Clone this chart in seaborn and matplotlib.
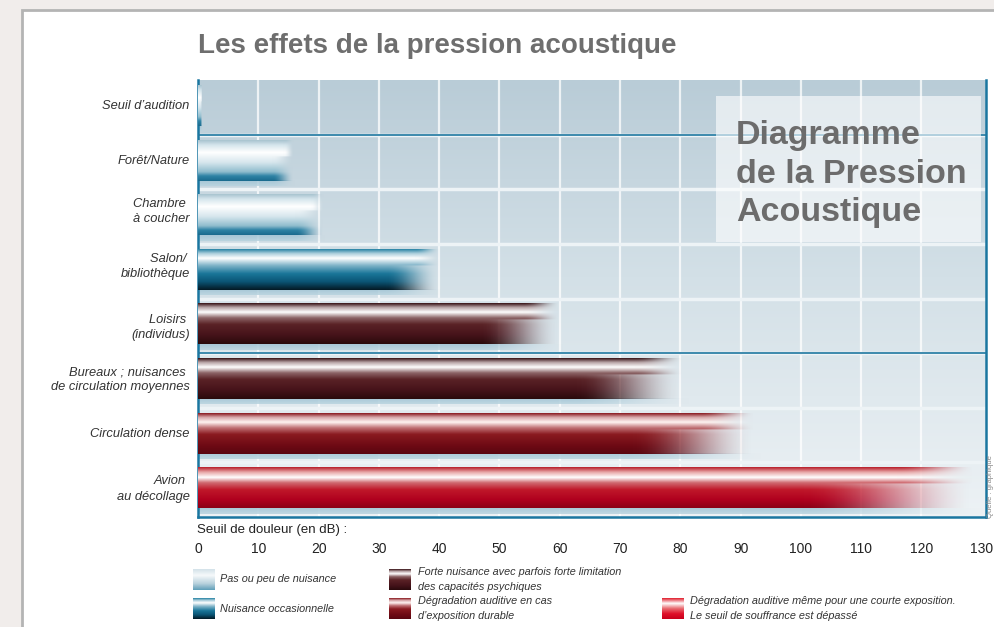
import numpy as np
import matplotlib
matplotlib.use("Agg")
import matplotlib.pyplot as plt
import seaborn as sns
import pandas as pd
from matplotlib.colors import to_rgb
from matplotlib.patches import Rectangle

# ---------------- data ----------------
categories = [
    "Seuil d’audition",
    "Forêt/Nature",
    "Chambre \nà coucher",
    "Salon/ \nbibliothèque",
    "Loisirs \n(individus)",
    "Bureaux ; nuisances \nde circulation moyennes",
    "Circulation dense",
    "Avion \nau décollage",
]
values_db = [0.6, 15.8, 20.8, 40.0, 60.0, 80.5, 92.5, 129.0]
levels = ["peu", "peu", "peu", "occasionnelle", "forte", "forte", "durable", "courte"]
xticks = [0, 10, 20, 30, 40, 50, 60, 70, 80, 90, 100, 110, 120, 130]

title = "Les effets de la pression acoustique"
box_lines = ["Diagramme", "de la Pression", "Acoustique"]
xlabel = "Seuil de douleur (en dB) :"
legend_levels = ["peu", "occasionnelle", "forte", "durable", "courte"]
legend_texts = [
    "Pas ou peu de nuisance",
    "Nuisance occasionnelle",
    "Forte nuisance avec parfois forte limitation\ndes capacités psychiques",
    "Dégradation auditive en cas\nd’exposition durable",
    "Dégradation auditive même pour une courte exposition.\nLe seuil de souffrance est dépassé",
]

# ---------------- styles ----------------
label_shift = [-0.06, -0.05, -0.15, -0.14, -0.03, -0.07, -0.05, -0.07]
profiles = {
    "peu": [(0, "#a9c4d0"), (0.12, "#d6e6ed"), (0.3, "#ffffff"), (0.55, "#d6e6ed"),
            (0.78, "#8fbccd"), (0.88, "#2f84a6"), (1, "#1a6b8e")],
    "occasionnelle": [(0, "#2a84a5"), (0.1, "#a9cddb"), (0.22, "#ffffff"), (0.4, "#7fb3c8"),
                      (0.6, "#1a7699"), (0.8, "#0b5575"), (1, "#041a26")],
    "forte": [(0, "#3a1418"), (0.1, "#b8a4a6"), (0.22, "#ffffff"), (0.36, "#8c6466"),
              (0.52, "#5a2226"), (0.78, "#46131a"), (1, "#2a0a0c")],
    "durable": [(0, "#8a1c22"), (0.1, "#d8a8aa"), (0.22, "#fff4f2"), (0.36, "#c07074"),
                (0.52, "#8a1a20"), (0.8, "#6e0a14"), (1, "#5a0610")],
    "courte": [(0, "#b8202c"), (0.12, "#e8a8a8"), (0.25, "#ffffff"), (0.38, "#d06a70"),
               (0.55, "#c0182a"), (0.8, "#b0001e"), (1, "#8c0016")],
}
legend_profiles = dict(profiles)
legend_profiles["peu"] = [(0, "#d3e2e9"), (0.3, "#f6f9fb"), (0.7, "#b7d1dc"), (1, "#5f9fb9")]
legend_profiles["courte"] = [(0, "#e0202e"), (0.25, "#ffffff"), (0.5, "#e86a70"), (0.75, "#e0102a"), (1, "#c8001c")]

W, H, DPI = 995, 627, 100
NARROW = ["Liberation Sans Narrow", "Liberation Sans"]


def interp_colors(stops, n):
    ts = np.array([s[0] for s in stops])
    cs = np.array([to_rgb(s[1]) for s in stops])
    t = np.linspace(0, 1, n)
    return np.stack([np.interp(t, ts, cs[:, k]) for k in range(3)], axis=1)


def bar_image(stops, nrows=80, ncols=500, fade_bottom=0.78, fade_top=0.9):
    cols = interp_colors(stops, nrows)
    u = np.linspace(0, 1, ncols)
    img = np.zeros((nrows, ncols, 4))
    t = np.linspace(0, 1, nrows)
    for r in range(nrows):
        fs = fade_top if t[r] < 0.4 else fade_bottom
        a = np.clip((1 - u) / (1 - fs), 0, 1)
        a = a * a * (3 - 2 * a)
        img[r, :, :3] = cols[r]
        img[r, :, 3] = a
    return img


sns.set_theme(style="white")
plt.rcParams["font.family"] = ["Liberation Sans", "DejaVu Sans"]

fig = plt.figure(figsize=(W / DPI, H / DPI), dpi=DPI, facecolor="#f1edeb")
# white card behind everything
fig.patches.append(Rectangle((22 / W, -0.02), 1.0, (H - 10) / H + 0.02, transform=fig.transFigure,
                             facecolor="white", edgecolor="#b4b4b4", lw=2, zorder=-10))

ax_l, ax_r, ax_t, ax_b = 198, 986, 80, 517
ax = fig.add_axes([ax_l / W, 1 - ax_b / H, (ax_r - ax_l) / W, (ax_b - ax_t) / H])
ax.set_zorder(1)

df = pd.DataFrame({"cat": categories, "db": values_db, "level": levels})
sns.barplot(data=df, x="db", y="cat", orient="h", width=0.74, color="#999999", ax=ax, zorder=2)

XMAX = 130.7
n = len(categories)

# background gradient
bg = interp_colors([(0, "#b9ccd7"), (0.45, "#d3e0e7"), (1, "#edf2f5")], 200)[:, None, :]
ax.imshow(bg, extent=(0, XMAX, n - 0.5, -0.5), aspect="auto", zorder=0, interpolation="bilinear")

# vertical white grid
for xv in xticks[1:-1]:
    ax.axvline(xv, color="white", lw=1.6, alpha=0.75, zorder=1)

# row separators
for i in range(n - 1):
    ax.axhline(i + 0.5, color="#edf3f6", lw=2.5, zorder=1)
for i in (0, 4):
    ax.axhline(i + 0.5, color="#1f78a0", lw=1.2, zorder=5)

band_stops = [(0, "#9fc3d4"), (1, "#b8d3df")]
for p, lev in zip(ax.patches, levels):
    x0, w = p.get_x(), p.get_width()
    yc = p.get_y() + p.get_height() / 2
    h = p.get_height()
    p.set_alpha(0)
    top = yc - h / 2 - 0.03
    bot = yc + h / 2 - 0.03
    img = bar_image(profiles[lev])
    ax.imshow(img, extent=(x0, x0 + w, bot, top), aspect="auto", zorder=3, interpolation="bilinear")
    band = bar_image(band_stops, nrows=10, fade_bottom=0.75, fade_top=0.75)
    band[..., 3] *= 0.85
    ax.imshow(band, extent=(x0, x0 + w * 1.02, bot + 0.1, bot), aspect="auto", zorder=2.5,
              interpolation="bilinear")

ax.set_xlim(0, XMAX)
ax.set_ylim(n - 0.5, -0.5)
ax.set_xticks(xticks)
ax.set_xticklabels([str(v) for v in xticks], family=NARROW, fontsize=10, color="#222222")
ax.set_yticks(np.arange(n) + np.array(label_shift))
ax.set_yticklabels(categories, style="italic", fontsize=9.3, color="#333333", linespacing=1.35)
ax.tick_params(axis="x", length=0, pad=18)
ax.tick_params(axis="y", length=0, pad=6)
ax.set_xlabel("")
ax.set_ylabel("")
for s in ("left", "right", "bottom"):
    ax.spines[s].set_visible(True)
    ax.spines[s].set_color("#1a76a0")
    ax.spines[s].set_linewidth(1.8)
ax.spines["top"].set_visible(False)
ax.grid(False)

# title
fig.text(198 / W, 1 - 53 / H, title, fontsize=20, fontweight="bold", color="#6e6e6e",
         ha="left", va="baseline")
# overlay box
fig.patches.append(Rectangle((716 / W, 1 - 242 / H), (981 - 716) / W, (242 - 96) / H,
                             transform=fig.transFigure, facecolor="white", alpha=0.6,
                             edgecolor="none", zorder=10))
for line, yb in zip(box_lines, [144, 183, 221]):
    fig.text(736 / W, 1 - yb / H, line, fontsize=24.5, fontweight="bold", color="#6c6c6c",
             ha="left", va="baseline", zorder=11)

# axis label
fig.text(197 / W, 1 - 530 / H, xlabel, fontsize=9.5, color="#222222", ha="left", va="center",
         family=NARROW)

# source text (small, vertical, right edge)
fig.text(987 / W, 1 - 518 / H, "Quelle : graphique", fontsize=5.5, color="#888888",
         rotation=90, ha="left", va="bottom", zorder=12)

# legend
swatches = [(193, 569), (193, 598), (389, 569), (389, 598), (662, 598)]
text_x = [220, 220, 418, 418, 690]
for lev, (sx, sy), tx, txt in zip(legend_levels, swatches, text_x, legend_texts):
    sax = fig.add_axes([sx / W, 1 - (sy + 21) / H, 22 / W, 21 / H])
    sax.set_zorder(2)
    sw = interp_colors(legend_profiles[lev], 60)[:, None, :]
    sax.imshow(sw, aspect="auto", interpolation="bilinear")
    sax.set_axis_off()
    fig.text(tx / W, 1 - (sy + 10.5) / H, txt, fontsize=7.8, style="italic", color="#333333",
             ha="left", va="center", linespacing=1.55, family=NARROW)

fig.savefig("out.png", dpi=DPI, facecolor=fig.get_facecolor())
